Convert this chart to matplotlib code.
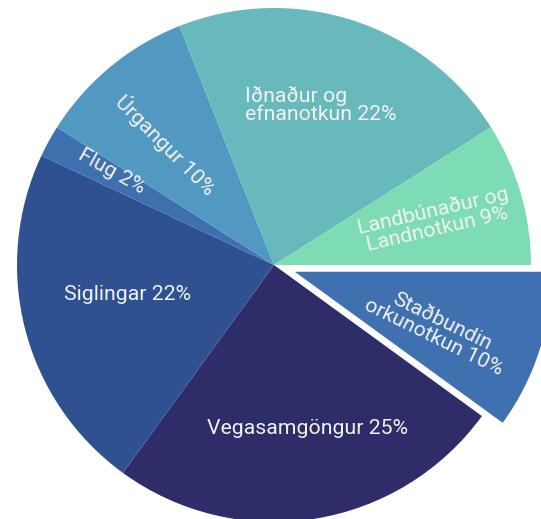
import numpy as np
import matplotlib
matplotlib.use("Agg")
import matplotlib.pyplot as plt

categories = ["Staðbundin\norkunotkun", "Vegasamgöngur", "Siglingar", "Flug",
              "Úrgangur", "Iðnaður og\nefnanotkun", "Landbúnaður og\nLandnotkun"]
values = [10, 25, 22, 2, 10, 22, 9]
colors = ["#3f70b0", "#2e2c69", "#2f5192", "#3e70b0", "#5299c1", "#68b9bc", "#7edcb4"]
explode = [0.085, 0, 0, 0, 0, 0, 0]

# label layout (distance as fraction of radius, angle nudge in deg, rotation)
label_dist = [0.60, 0.65, 0.58, 0.73, 0.63, 0.65, 0.65]
label_nudge = [-4, 2.4, -3, -1, 2.6, 1.6, -0.6]
label_rot = [-26, 0, 0, -29, -45, 0, 13]
label_malign = ["center", "center", "center", "center", "center", "left", "center"]

plt.rcParams['font.family'] = ['Roboto', 'DejaVu Sans']

W, H = 541, 519
fig = plt.figure(figsize=(W / 100, H / 100), dpi=100)
ax = fig.add_axes([0, 0, 1, 1])
cx, cy, R = 274, 265, 257

wedges, _ = ax.pie(values, colors=colors, explode=explode, startangle=0,
                   counterclock=False, radius=1.0,
                   wedgeprops=dict(linewidth=0))

total = sum(values)
for i, w in enumerate(wedges):
    mid = (w.theta1 + w.theta2) / 2 + label_nudge[i]
    cxw, cyw = w.center
    r = label_dist[i]
    x = cxw + r * np.cos(np.radians(mid))
    y = cyw + r * np.sin(np.radians(mid))
    pct = round(values[i] / total * 100)
    txt = f"{categories[i]} {pct}%"
    ax.text(x, y, txt, ha="center", va="center", rotation=label_rot[i],
            rotation_mode="anchor", multialignment=label_malign[i],
            color="#f2f2f2", fontsize=15.3, linespacing=0.95)

ax.set_xlim(-cx / R, (W - cx) / R)
ax.set_ylim((cy - H) / R, cy / R)
ax.set_aspect("equal")
ax.axis("off")
fig.savefig("out.png", dpi=100)
